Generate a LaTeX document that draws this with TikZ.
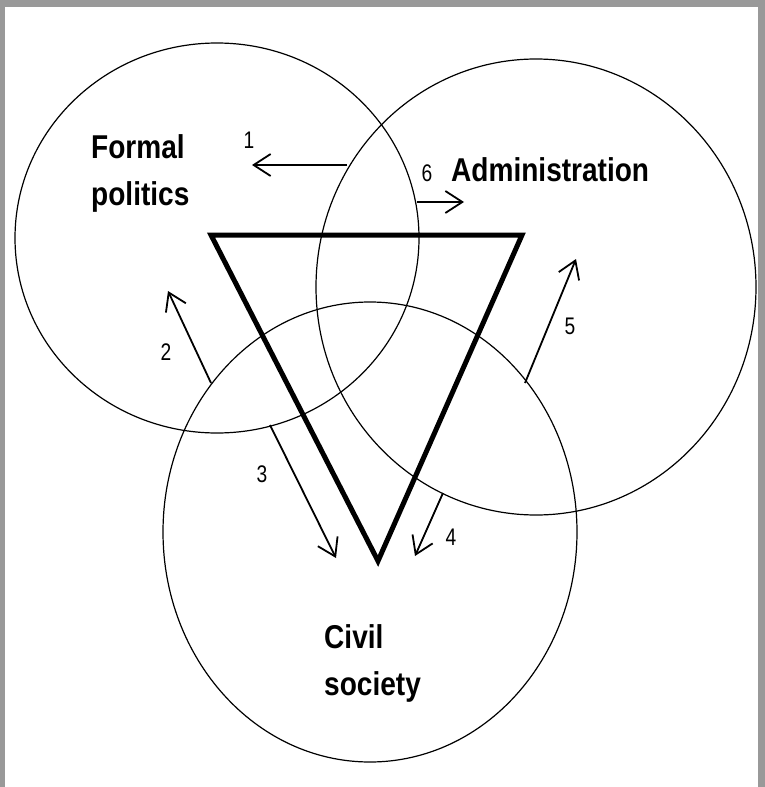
\documentclass[tikz,border=0pt]{standalone}
\usepackage{fontspec}
\setmainfont{Liberation Sans}
\newfontfamily\labfont[FakeStretch=0.85]{Liberation Sans}
\newfontfamily\numfont[FakeStretch=0.8]{Liberation Sans}
\usetikzlibrary{arrows.meta}
\definecolor{framegray}{RGB}{153,153,153}
\begin{document}
\begin{tikzpicture}[x=1pt,y=-1pt,
  ring/.style={draw=black, line width=1.2pt},
  link/.style={draw=black, line width=1.8pt, -{Straight Barb[length=17pt,width=22pt,line width=1.8pt]}},
  lbl/.style={font=\labfont\fontsize{33}{47}\selectfont\bfseries, align=left, inner sep=0pt, anchor=north west},
  num/.style={font=\numfont\fontsize{24}{24}\selectfont, inner sep=0pt},
  tri/.style={draw=black, line width=5pt, line join=miter}]
\fill[framegray] (0,0) rectangle (765,787);
\fill[white] (5,7) rectangle (758,787);
\useasboundingbox (0,0) rectangle (765,787);
% circles
\coordinate (cfp) at (217,238);
\coordinate (cad) at (536,287);
\coordinate (ccs) at (370,532);
\draw[ring] (cfp) ellipse [x radius=202, y radius=195];
\draw[ring] (cad) ellipse [x radius=220, y radius=228];
\draw[ring] (ccs) ellipse [x radius=207, y radius=230];
% triangle
\coordinate (tl) at (211,235);
\coordinate (tr) at (522,235);
\coordinate (tb) at (378,561);
\draw[tri] (tl) -- (tr) -- (tb) -- cycle;
% arrow endpoints
\coordinate (a1s) at (347,165); \coordinate (a1e) at (252,165);
\coordinate (a6s) at (417,202); \coordinate (a6e) at (464,202);
\coordinate (a2s) at (211,383); \coordinate (a2e) at (168,291);
\coordinate (a3s) at (270,425); \coordinate (a3e) at (336,558);
\coordinate (a4s) at (443,493); \coordinate (a4e) at (415,556);
\coordinate (a5s) at (525,383); \coordinate (a5e) at (576,259);
\draw[link] (a1s) -- (a1e);
\draw[link] (a6s) -- (a6e);
\draw[link] (a2s) -- (a2e);
\draw[link] (a3s) -- (a3e);
\draw[link] (a4s) -- (a4e);
\draw[link] (a5s) -- (a5e);
% numbers
\node[num] (n1) at (249,140) {1};
\node[num] (n6) at (427,173) {6};
\node[num] (n2) at (166,352) {2};
\node[num] (n3) at (262,474) {3};
\node[num] (n4) at (451,537) {4};
\node[num] (n5) at (570,326) {5};
% labels
\node[lbl] (fp) at (91,134) {Formal\\politics};
\node[lbl] (ad) at (451,157) {Administration};
\node[lbl] (cs) at (324,624) {Civil\\society};
\end{tikzpicture}
\end{document}
